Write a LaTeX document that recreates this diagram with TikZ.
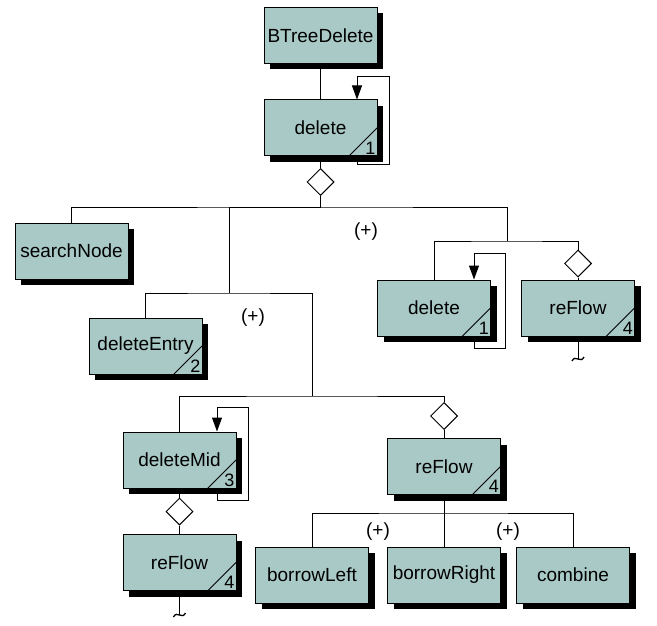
\documentclass[tikz,border=0pt]{standalone}
\usepackage{fontspec}
\setmainfont{Liberation Sans}
\usetikzlibrary{shapes.geometric,shadows,arrows.meta}
\definecolor{boxfill}{RGB}{168,201,197}
\tikzset{
  mod/.style={draw=black, line width=1pt, fill=boxfill, minimum width=113pt, minimum height=56pt,
    inner sep=0pt, font=\fontsize{19}{22}\selectfont,
    general shadow={fill=black, shadow xshift=6pt, shadow yshift=-6pt}},
  dia/.style={draw=black, fill=white, shape=diamond, minimum width=27pt, minimum height=27pt,
    inner sep=0pt, line width=1pt},
  conn/.style={draw=black, line width=1pt},
  selfloop/.style={conn, -{Triangle[length=14pt,width=10pt]}},
  plus/.style={font=\fontsize{19}{22}\selectfont, inner sep=0pt},
  cornernum/.style={anchor=south east, inner sep=2pt, font=\fontsize{18}{20}\selectfont},
}
\newcommand\cornermark[2]{%
  \draw[line width=1pt] (#1.south east) ++(-29,0) -- ++(29,-29);
  \node[cornernum] at (#1.south east) {#2};}
\newcommand\tildemark[1]{%
  \draw[line width=1.3pt] ([xshift=-6pt,yshift=-2pt]#1) .. controls ([xshift=-2.5pt,yshift=5pt]#1) and ([xshift=2.5pt,yshift=-5pt]#1) .. ([xshift=6pt,yshift=2pt]#1);}
\begin{document}
\begin{tikzpicture}[x=1pt,y=-1pt]
\useasboundingbox (0,0) rectangle (657,626);
% modules
\node[mod] (btd) at (320.5,35.5) {BTreeDelete};
\node[mod] (del1) at (320.5,128) {delete};
\node[mod] (search) at (71.5,251) {searchNode};
\node[mod] (entry) at (145.5,346) {deleteEntry};
\node[mod] (del2) at (434,308) {delete};
\node[mod] (refR) at (578,308) {reFlow};
\node[mod] (dmid) at (179.5,460) {deleteMid};
\node[mod] (refM) at (444,466.5) {reFlow};
\node[mod] (refB) at (179.5,562.5) {reFlow};
\node[mod] (bl) at (312,575) {borrowLeft};
\node[mod] (br) at (444,575) {borrowRight};
\node[mod] (comb) at (573,575) {combine};
\cornermark{del1}{1}
\cornermark{entry}{2}
\cornermark{del2}{1}
\cornermark{refR}{4}
\cornermark{dmid}{3}
\cornermark{refM}{4}
\cornermark{refB}{4}
% diamonds
\node[dia] (d1) at (320.5,182) {};
\node[dia] (d2) at (578,263.5) {};
\node[dia] (d3) at (444,416) {};
\node[dia] (d4) at (179.5,511.5) {};
% junctions
\coordinate (b1) at (320.5,207);
\coordinate (m1) at (229,293);
\coordinate (m2) at (312,396);
\coordinate (r1) at (507,241);
\coordinate (m4) at (444,513);
\coordinate (t1) at (578,359);
\coordinate (t2) at (179.5,615);
% connectors
\draw[conn] (btd) -- (del1);
\draw[conn] (del1) -- (d1);
\draw[conn] (d1.south) -- (b1);
\draw[conn] (search.north) |- (b1) -| (r1);
\draw[conn] (b1) -| (m1);
\draw[conn] (entry.north) |- (m1) -| (m2);
\draw[conn] (dmid.north) |- (m2) -| (d3.north);
\draw[conn] (d3.south) -- (refM.north);
\draw[conn] (del2.north) |- (r1) -| (d2.north);
\draw[conn] (d2.south) -- (refR.north);
\draw[conn] (dmid.south) -- (d4.north);
\draw[conn] (d4.south) -- (refB.north);
\draw[conn] (refM.south) -- (br.north);
\draw[conn] (bl.north) |- (m4) -| (comb.north);
\draw[conn] (refR.south) -- (t1);
\draw[conn] (refB.south) -- (t2);
\tildemark{t1}
\tildemark{t2}
% self loops
\draw[selfloop] ([xshift=36.5pt]del1.south) -- ++(0,8) -- ++(32,0) -- ++(0,-88) -- ++(-32,0) -- ([xshift=36.5pt]del1.north);
\draw[selfloop] ([xshift=40pt]del2.south) -- ++(0,12) -- ++(31,0) -- ++(0,-95) -- ++(-31,0) -- ([xshift=40pt]del2.north);
\draw[selfloop] ([xshift=37.5pt]dmid.south) -- ++(0,12) -- ++(31,0) -- ++(0,-93) -- ++(-31,0) -- ([xshift=37.5pt]dmid.north);
% (+) labels
\node[plus] (p1) at (366,232) {(+)};
\node[plus] (p2) at (253,318) {(+)};
\node[plus] (p3) at (378,532) {(+)};
\node[plus] (p4) at (508,532) {(+)};
\end{tikzpicture}
\end{document}
